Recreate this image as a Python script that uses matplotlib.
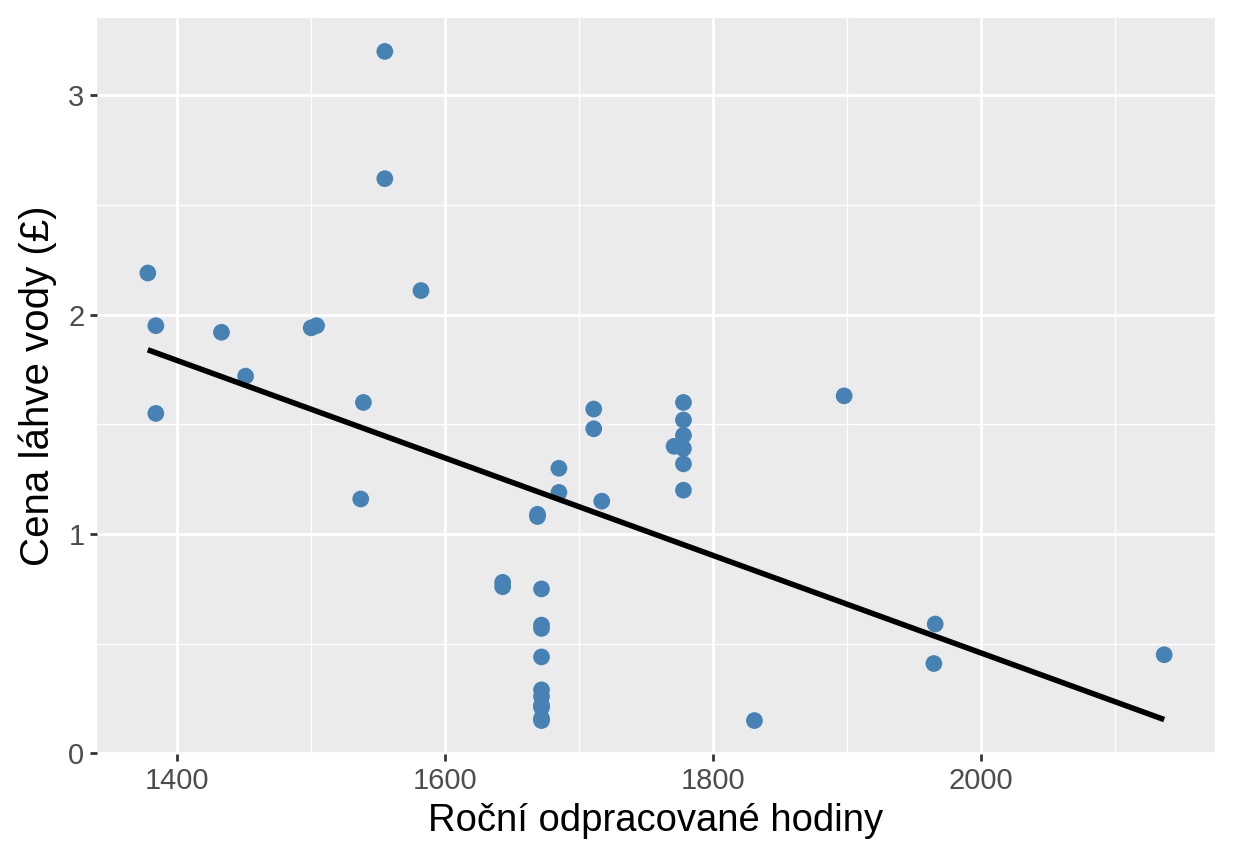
import numpy as np
import matplotlib
matplotlib.use("Agg")
import matplotlib.pyplot as plt
from matplotlib.ticker import MultipleLocator

# Data
hours = [1378, 1384, 1384, 1433, 1451, 1500, 1504, 1539, 1537, 1555, 1555, 1582,
         1643, 1643, 1669, 1669, 1685, 1685, 1717, 1711, 1711,
         1672, 1672, 1672, 1672, 1672, 1672, 1672, 1672, 1672, 1672,
         1778, 1778, 1778, 1771, 1778, 1778, 1778,
         1831, 1898, 1966, 1965, 2137]
price = [2.19, 1.95, 1.55, 1.92, 1.72, 1.94, 1.95, 1.60, 1.16, 3.20, 2.62, 2.11,
         0.78, 0.76, 1.09, 1.08, 1.30, 1.19, 1.15, 1.57, 1.48,
         0.75, 0.585, 0.57, 0.44, 0.29, 0.26, 0.22, 0.21, 0.16, 0.15,
         1.60, 1.52, 1.45, 1.40, 1.39, 1.32, 1.20,
         0.15, 1.63, 0.59, 0.41, 0.45]

x_ticks = [1400, 1600, 1800, 2000]
y_ticks = [0, 1, 2, 3]
x_label = "Roční odpracované hodiny"
y_label = "Cena láhve vody (£)"

plt.rcParams['font.family'] = ['Liberation Sans', 'DejaVu Sans']

fig = plt.figure(figsize=(12.34, 8.64), dpi=100)
ax = fig.add_axes([0.0786, 0.1273, 0.9060, 0.8519])
ax.set_facecolor('#EBEBEB')

xa = np.array(hours, dtype=float)
ya = np.array(price, dtype=float)

# axis limits with ggplot-style 5% expansion
xr = xa.max() - xa.min()
yr = ya.max() - ya.min()
ax.set_xlim(xa.min() - 0.05 * xr, xa.max() + 0.05 * xr)
ax.set_ylim(ya.min() - 0.05 * yr, ya.max() + 0.05 * yr)

ax.set_xticks(x_ticks)
ax.set_yticks(y_ticks)
ax.xaxis.set_minor_locator(MultipleLocator(100))
ax.yaxis.set_minor_locator(MultipleLocator(0.5))
ax.grid(which='major', color='white', linewidth=2.0)
ax.grid(which='minor', color='white', linewidth=1.0)
ax.set_axisbelow(True)
for s in ax.spines.values():
    s.set_visible(False)

ax.tick_params(axis='both', which='major', length=5, width=2, color='#333333',
               labelcolor='#4D4D4D', labelsize=21, pad=4)
ax.tick_params(axis='both', which='minor', length=0)

ax.scatter(xa, ya, s=145, color='#4682B4', edgecolors='none', zorder=3)

coef = np.polyfit(xa, ya, 1)
xl = np.array([xa.min(), xa.max()])
ax.plot(xl, np.polyval(coef, xl), color='black', linewidth=4.0, zorder=4,
        solid_capstyle='butt')

ax.set_xlabel(x_label, fontsize=27.5, color='black', labelpad=6)
ax.set_ylabel(y_label, fontsize=29, color='black', labelpad=8)

fig.savefig('out.png', dpi=100, facecolor='white')
